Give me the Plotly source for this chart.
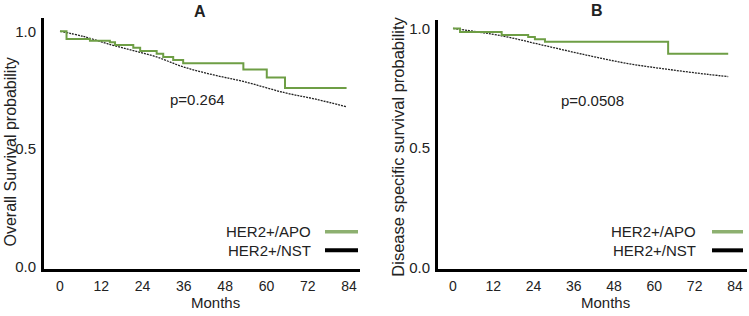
import plotly.graph_objects as go

W, H = 749, 316

# ---------------- data ----------------
months_A_apo = [0, 1.9, 8.7, 14.5, 16.0, 21.3, 23.3, 28.1, 30.0, 32.9, 35.8, 53.3, 60.1, 65.4, 83.3]
surv_A_apo = [1.0, 0.967, 0.960, 0.953, 0.942, 0.930, 0.916, 0.905, 0.891, 0.878, 0.864, 0.838, 0.804, 0.759, 0.759]

months_A_nst = [0, 6.8, 15.0, 21.3, 28.1, 35.8, 44.6, 53.3, 65.4, 74.6, 83.3]
surv_A_nst = [1.0, 0.978, 0.942, 0.918, 0.891, 0.849, 0.815, 0.787, 0.739, 0.711, 0.679]

months_B_apo = [0, 2.1, 14.5, 22.4, 24.4, 27.4, 64.1, 82.0]
surv_B_apo = [1.0, 0.985, 0.973, 0.964, 0.955, 0.944, 0.894, 0.894]

months_B_nst = [0, 14.5, 27.4, 40.3, 52.2, 64.1, 76.0, 82.0]
surv_B_nst = [1.0, 0.969, 0.928, 0.887, 0.853, 0.829, 0.808, 0.799]

x_ticks = [0, 12, 24, 36, 48, 60, 72, 84]
y_ticks = [0.0, 0.5, 1.0]
y_ticktext = ["0.0", "0.5", "1.0"]
p_A = "p=0.264"
p_B = "p=0.0508"
series_names = ["HER2+/APO", "HER2+/NST"]
panel_titles = ["A", "B"]
y_titles = ["Overall Survival probability", "Disease specific survival probability"]
x_title = "Months"

# ---------------- styles ----------------
GREEN = "#6E9E45"
GREEN_LEG = "#8DB070"
FONT = "Liberation Sans, Arial, sans-serif"


def px_x(x):
    return x / W


def px_y(y):
    return 1 - y / H


fig = go.Figure()

fig.add_trace(go.Scatter(x=months_A_nst, y=surv_A_nst, mode="lines", line_shape="spline",
                         line=dict(color="#222222", width=1.3, dash="2px,1px"),
                         xaxis="x", yaxis="y", showlegend=False))
fig.add_trace(go.Scatter(x=months_A_apo, y=surv_A_apo, mode="lines", line_shape="hv",
                         line=dict(color=GREEN, width=2), xaxis="x", yaxis="y", showlegend=False))
fig.add_trace(go.Scatter(x=months_B_nst, y=surv_B_nst, mode="lines", line_shape="spline",
                         line=dict(color="#222222", width=1.3, dash="2px,1px"),
                         xaxis="x2", yaxis="y2", showlegend=False))
fig.add_trace(go.Scatter(x=months_B_apo, y=surv_B_apo, mode="lines", line_shape="hv",
                         line=dict(color=GREEN, width=2), xaxis="x2", yaxis="y2", showlegend=False))

axis_common = dict(showgrid=False, zeroline=False, showline=True, linecolor="black", linewidth=3,
                   ticks="")
xfont = dict(family=FONT, size=14, color="#222")
yfont = dict(family=FONT, size=15, color="#222")

fig.update_layout(
    width=W, height=H,
    margin=dict(l=0, r=0, t=0, b=0),
    paper_bgcolor="white", plot_bgcolor="white",
    font=dict(family=FONT, size=15, color="#222"),
    xaxis=dict(domain=[px_x(44), px_x(360)], range=[-4.65, 87.2], tickvals=x_ticks,
               anchor="y", ticklabelstandoff=2, tickfont=xfont, **axis_common),
    yaxis=dict(domain=[px_y(275), px_y(18)], range=[-0.0083, 1.058], tickvals=y_ticks,
               ticktext=y_ticktext, anchor="x", ticklabelstandoff=2, tickfont=yfont, **axis_common),
    xaxis2=dict(domain=[px_x(438), px_x(747)], range=[-4.47, 87.6], tickvals=x_ticks,
                anchor="y2", ticklabelstandoff=2, tickfont=xfont, **axis_common),
    yaxis2=dict(domain=[px_y(275), px_y(20)], range=[-0.004, 1.037], tickvals=y_ticks,
                ticktext=y_ticktext, anchor="x2", ticklabelstandoff=2, tickfont=yfont, **axis_common),
)

ann = []
# panel titles
ann.append(dict(x=px_x(200), y=px_y(12), text="<b>%s</b>" % panel_titles[0], size=16))
ann.append(dict(x=px_x(597), y=px_y(11), text="<b>%s</b>" % panel_titles[1], size=16))
# p-values
ann.append(dict(x=px_x(197), y=px_y(102), text=p_A, size=15))
ann.append(dict(x=px_x(592), y=px_y(103), text=p_B, size=15))
# x titles
ann.append(dict(x=px_x(215), y=px_y(309), text=x_title, size=15))
ann.append(dict(x=px_x(605), y=px_y(309), text=x_title, size=15))
# y titles
ann.append(dict(x=px_x(11), y=px_y(156), text=y_titles[0], textangle=-90, size=16))
ann.append(dict(x=px_x(398), y=px_y(150), text=y_titles[1], textangle=-90, size=16.5))

for a in ann:
    sz = a.pop("size")
    a.update(xref="paper", yref="paper", showarrow=False, xanchor="center", yanchor="middle",
             borderpad=0, font=dict(family=FONT, size=sz, color="#222"))
    fig.add_annotation(**a)

# legends (text then line key on the right)
for (tx, l0, l1) in [(313, 325, 358), (698, 712, 743)]:
    for i, (yy, col, wd) in enumerate([(237, GREEN_LEG, 3.5), (256, "black", 4)]):
        fig.add_annotation(x=px_x(tx), y=px_y(yy), xref="paper", yref="paper", showarrow=False,
                           xanchor="right", yanchor="middle", text=series_names[i],
                           font=dict(family=FONT, size=15, color="#222"))
        fig.add_shape(type="line", xref="paper", yref="paper", x0=px_x(l0), x1=px_x(l1),
                      y0=px_y(yy), y1=px_y(yy), line=dict(color=col, width=wd))

fig.write_html("out.html", config={"displayModeBar": False},
               post_script="document.body.style.margin='0';document.body.style.overflow='hidden';")
